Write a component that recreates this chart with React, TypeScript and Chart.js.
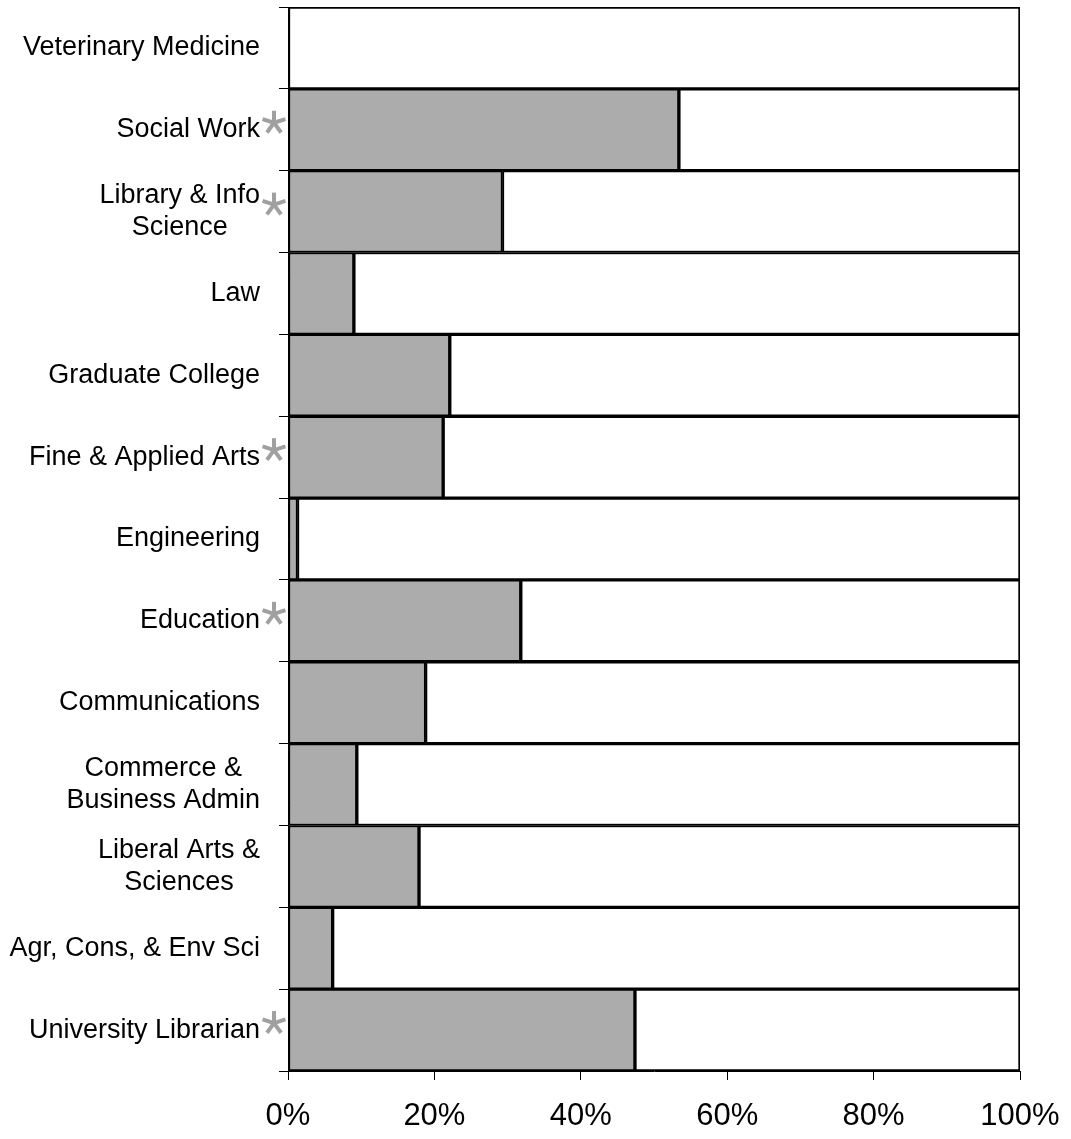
import React, { useEffect, useRef } from "react";
import { Chart, registerables } from "chart.js";

Chart.register(...registerables);

const categories: string[][] = [
  ["Veterinary Medicine"],
  ["Social Work"],
  ["Library & Info", "Science"],
  ["Law"],
  ["Graduate College"],
  ["Fine & Applied Arts"],
  ["Engineering"],
  ["Education"],
  ["Communications"],
  ["Commerce &", "Business Admin"],
  ["Liberal Arts &", "Sciences"],
  ["Agr, Cons, & Env Sci"],
  ["University Librarian"],
];

const starred: boolean[] = [false, true, true, false, false, true, false, true, false, false, false, false, true];

const grayValues: number[] = [0, 53.4, 29.3, 9.0, 22.1, 21.2, 1.3, 31.8, 18.8, 9.4, 17.9, 6.1, 47.4];
const whiteValues: number[] = [100, 46.6, 70.7, 91.0, 77.9, 78.8, 98.7, 68.2, 81.2, 90.6, 82.1, 93.9, 52.6];

const xTicks: number[] = [0, 20, 40, 60, 80, 100];

const FONT = '"Liberation Sans", Arial, Helvetica, sans-serif';

const labelPlugin = {
  id: "customLabels",
  afterDraw(chart: any) {
    const ctx = chart.ctx as CanvasRenderingContext2D;
    const yScale = chart.scales.y;
    const blockRight = yScale.right - 28;
    ctx.save();
    ctx.font = `27px ${FONT}`;
    ctx.fillStyle = "#000";
    ctx.textAlign = "center";
    ctx.textBaseline = "middle";
    categories.forEach((lines, i) => {
      const cy = yScale.getPixelForValue(i);
      const maxW = Math.max(...lines.map((l) => ctx.measureText(l).width));
      const cx = blockRight - maxW / 2;
      lines.forEach((line, j) => {
        ctx.fillText(line, cx, cy + (j - (lines.length - 1) / 2) * 32);
      });
      if (starred[i]) {
        const ax = yScale.right - 14;
        const ay = cy - 7;
        ctx.strokeStyle = "#a0a0a0";
        ctx.lineWidth = 4;
        ctx.lineCap = "butt";
        for (let k = 0; k < 5; k++) {
          const ang = (-90 + k * 72) * (Math.PI / 180);
          ctx.beginPath();
          ctx.moveTo(ax, ay);
          ctx.lineTo(ax + Math.cos(ang) * 12, ay + Math.sin(ang) * 12);
          ctx.stroke();
        }
      }
    });
    ctx.restore();
  },
};

export default function App() {
  const canvasRef = useRef<HTMLCanvasElement | null>(null);

  useEffect(() => {
    if (!canvasRef.current) return;
    const chart = new Chart(canvasRef.current, {
      type: "bar",
      data: {
        labels: categories.map((c) => c.join(" ")),
        datasets: [
          {
            data: grayValues,
            backgroundColor: "#acacac",
            borderColor: "#000",
            borderWidth: 2,
            borderSkipped: false,
            barPercentage: 1,
            categoryPercentage: 1,
          },
          {
            data: whiteValues,
            backgroundColor: "#ffffff",
            borderColor: "#000",
            borderWidth: 2,
            borderSkipped: false,
            barPercentage: 1,
            categoryPercentage: 1,
          },
        ],
      },
      options: {
        indexAxis: "y",
        animation: false,
        responsive: false,
        maintainAspectRatio: false,
        layout: { padding: { top: 7, right: 51, bottom: 0, left: 0 } },
        plugins: {
          legend: { display: false },
          tooltip: { enabled: false },
          title: { display: false },
        },
        scales: {
          x: {
            stacked: true,
            min: 0,
            max: 100,
            afterBuildTicks(scale: any) {
              scale.ticks = xTicks.map((v) => ({ value: v }));
            },
            afterFit(scale: any) {
              scale.height = 68;
              scale.paddingRight = 0;
              scale.paddingLeft = 0;
            },
            grid: {
              drawOnChartArea: false,
              drawTicks: true,
              tickLength: 9,
              color: "#000",
              lineWidth: 1,
            },
            border: { display: true, color: "#000", width: 1 },
            ticks: {
              padding: 18,
              color: "#000",
              font: { family: FONT, size: 31 },
              maxRotation: 0,
              callback: (v: any) => `${v}%`,
            },
          },
          y: {
            stacked: true,
            afterFit(scale: any) {
              scale.width = 288;
              scale.paddingTop = 0;
              scale.paddingBottom = 0;
            },
            grid: {
              offset: true,
              drawOnChartArea: false,
              drawTicks: true,
              tickLength: 9,
              color: "#000",
              lineWidth: 1,
            },
            border: { display: true, color: "#000", width: 1 },
            ticks: { display: false },
          },
        },
      },
      plugins: [labelPlugin],
    } as any);
    return () => chart.destroy();
  }, []);

  return (
    <div style={{ position: "fixed", left: 0, top: 0, width: 1071, height: 1139, background: "#fff" }}>
      <canvas ref={canvasRef} width={1071} height={1139} style={{ display: "block" }} />
    </div>
  );
}
